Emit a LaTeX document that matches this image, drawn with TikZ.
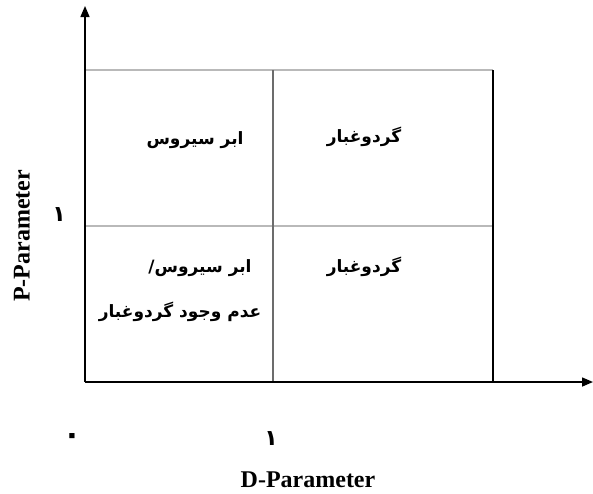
\documentclass[tikz,border=0pt]{standalone}
\usepackage{fontspec}
\setmainfont{Liberation Serif}
\newfontfamily\arabicfont[Script=Arabic]{DejaVu Sans}
\TeXXeTstate=1
\usetikzlibrary{arrows.meta,positioning}

\begin{document}
\begin{tikzpicture}[x=1pt,y=-1pt,
  axis/.style={line width=1.5pt,-{Triangle[length=11pt,width=9pt]}},
  cell/.style={line width=1.2pt,gray!85!black},
  farsi/.style={font=\arabicfont\bfseries\fontsize{17}{20}\selectfont,inner sep=0pt},
  digit/.style={font=\arabicfont\bfseries\fontsize{22}{24}\selectfont,inner sep=0pt},
  latin/.style={font=\bfseries\fontsize{24}{27}\selectfont,inner sep=0pt}]
  \useasboundingbox (0,0) rectangle (593,493);
  % Grid cells
  \draw[cell,gray!55] (85,70) -- (493,70);
  \draw[cell,gray!55] (85,226) -- (493,226);
  \draw[cell] (273,70) -- (273,382);
  \draw[cell,black] (493,70) -- (493,382);
  % Axes
  \coordinate (o) at (85,382);
  \coordinate (ytip) at (85,6);
  \coordinate (xtip) at (593,382);
  \draw[axis] (o) -- (ytip);
  \draw[axis] (o) -- (xtip);
  % Cell labels
  \node[farsi] (tl) at (195,140) {\beginR ابر سیروس\endR};
  \node[farsi] (tr) at (364,137) {\beginR گردوغبار\endR};
  \node[farsi] (br) at (364,267) {\beginR گردوغبار\endR};
  \node[farsi] (bl1) at (200,268) {\beginR ابر سیروس/\endR};
  \node[farsi] (bl2) at (180,312) {\beginR عدم وجود گردوغبار\endR};
  % Tick values
  \node[digit,font=\arabicfont\bfseries\fontsize{30}{32}\selectfont] (x0) at (72,439) {\beginR ۰\endR};
  \node[digit] (x1) at (271,439) {\beginR ۱\endR};
  \node[digit] (y1) at (59,215) {\beginR ۱\endR};
  % Axis titles
  \node[latin] (dpar) at (308,480) {D-Parameter};
  \node[latin,rotate=90] (ppar) at (22,236) {P-Parameter};
\end{tikzpicture}
\end{document}
